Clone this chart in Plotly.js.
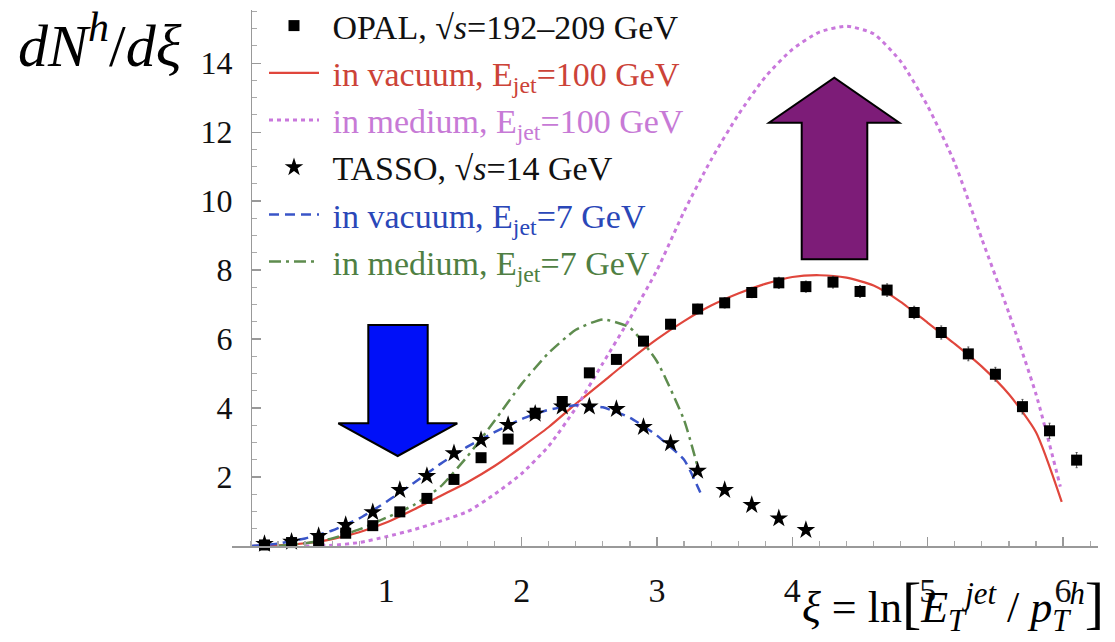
<!DOCTYPE html>
<html><head><meta charset="utf-8">
<script src="https://cdn.plot.ly/plotly-3.0.1.min.js"></script>
<style>html,body{margin:0;padding:0;background:#fff}</style>
</head><body><div id="chart" style="width:1115px;height:642px"></div>
<script>
// ---- data ----
const opalX = [0.1,0.3,0.5,0.7,0.9,1.1,1.3,1.5,1.7,1.9,2.1,2.3,2.5,2.7,2.9,3.1,3.3,3.5,3.7,3.9,4.1,4.3,4.5,4.7,4.9,5.1,5.3,5.5,5.7,5.9,6.1];
const opalY = [0.03,0.1,0.15,0.37,0.59,0.99,1.38,1.93,2.56,3.10,3.85,4.19,5.02,5.41,5.94,6.43,6.87,7.05,7.35,7.63,7.52,7.65,7.38,7.42,6.77,6.19,5.57,4.98,4.04,3.34,2.49];
const opalErr = [0.02,0.02,0.03,0.04,0.05,0.06,0.07,0.08,0.09,0.1,0.1,0.11,0.12,0.12,0.13,0.14,0.14,0.15,0.15,0.16,0.16,0.17,0.17,0.18,0.18,0.19,0.2,0.2,0.21,0.22,0.22];

const tassoX = [0.1,0.3,0.5,0.7,0.9,1.1,1.3,1.5,1.7,1.9,2.1,2.3,2.5,2.7,2.9,3.1,3.3,3.5,3.7,3.9,4.1];
const tassoY = [0.06,0.12,0.29,0.61,0.98,1.62,2.03,2.69,3.07,3.51,3.83,4.04,4.04,3.97,3.45,2.98,2.18,1.62,1.19,0.80,0.46];

const vac100X = [0,0.2,0.4,0.6,0.8,1.0,1.2,1.4,1.6,1.8,2.0,2.2,2.4,2.6,2.8,3.0,3.2,3.4,3.6,3.8,4.0,4.2,4.4,4.6,4.8,5.0,5.2,5.4,5.6,5.8,5.99];
const vac100Y = [0,0.02,0.08,0.2,0.4,0.68,1.05,1.45,1.85,2.32,2.87,3.45,4.12,4.76,5.4,6.0,6.52,6.97,7.32,7.6,7.8,7.85,7.78,7.55,7.08,6.47,5.86,5.2,4.4,3.3,1.28];

const med100X = [0.4,0.6,0.8,1.0,1.2,1.4,1.6,1.8,2.0,2.2,2.4,2.6,2.8,3.0,3.2,3.4,3.6,3.8,4.0,4.2,4.4,4.6,4.8,5.0,5.2,5.4,5.6,5.8,5.98];
const med100Y = [0,0.02,0.1,0.27,0.47,0.72,1.0,1.5,2.1,2.9,4.0,5.3,6.6,8.0,9.7,11.2,12.5,13.6,14.4,14.9,15.07,14.85,14.05,12.75,11.1,8.9,6.75,4.4,1.72];

const vac7X = [0,0.2,0.4,0.6,0.8,1.0,1.2,1.4,1.6,1.8,2.0,2.2,2.4,2.6,2.8,3.0,3.2,3.32];
const vac7Y = [0,0.07,0.22,0.45,0.8,1.28,1.82,2.38,2.88,3.3,3.68,3.95,4.08,4.02,3.72,3.2,2.5,1.55];

const med7X = [0.2,0.4,0.6,0.8,1.0,1.2,1.4,1.6,1.8,2.0,2.2,2.4,2.6,2.8,3.0,3.2,3.3];
const med7Y = [0,0.08,0.22,0.48,0.82,1.18,1.72,2.6,3.63,4.7,5.6,6.27,6.57,6.33,5.35,3.65,2.3];

const xTicks = [1,2,3,4,5,6];
const yTicks = [2,4,6,8,10,12,14];

const sp = '\u2005';
const names = {
  opal: sp + 'OPAL, √<i>s</i>=192–209 GeV',
  vac100: sp + '<span style="color:#cc4338">in vacuum, E<sub>jet</sub>=100 GeV</span>',
  med100: sp + '<span style="color:#c77ad6">in medium, E<sub>jet</sub>=100 GeV</span>',
  tasso: sp + 'TASSO, √<i>s</i>=14 GeV',
  vac7: sp + '<span style="color:#2a47b8">in vacuum, E<sub>jet</sub>=7 GeV</span>',
  med7: sp + '<span style="color:#4f7f43">in medium, E<sub>jet</sub>=7 GeV</span>'
};

const serif = 'Liberation Serif, Times New Roman, serif';

const traces = [
  {x: vac100X, y: vac100Y, mode:'lines', name: names.vac100, legendrank:2, legendgroup:'b',
   line:{color:'#e0463c', width:2.2, shape:'spline', smoothing:0.6}},
  {x: med100X, y: med100Y, mode:'lines', name: names.med100, legendrank:3, legendgroup:'c',
   line:{color:'#c978dc', width:3, dash:'4px,4px', shape:'spline', smoothing:0.6}},
  {x: vac7X, y: vac7Y, mode:'lines', name: names.vac7, legendrank:5, legendgroup:'e',
   line:{color:'#3a55c8', width:2.5, dash:'10px,6px', shape:'spline', smoothing:0.5}},
  {x: med7X, y: med7Y, mode:'lines', name: names.med7, legendrank:6, legendgroup:'f',
   line:{color:'#5e8c4e', width:2.5, dash:'12px,5px,3px,5px', shape:'spline', smoothing:0.5}},
  {x: opalX, y: opalY, mode:'markers', name: names.opal, legendrank:1, legendgroup:'a', cliponaxis:false,
   marker:{symbol:'square', size:11, color:'#000'},
   error_y:{type:'data', array: opalErr, visible:true, color:'#555', thickness:1, width:1}},
  {x: tassoX, y: tassoY, mode:'markers', name: names.tasso, legendrank:4, legendgroup:'d', cliponaxis:false,
   marker:{symbol:'star', size:14, color:'#000', line:{width:0}}}
];

// pixel helpers for decorative arrows (paper coords)
const L = 232, T = 10, W = 866, H = 536;
const px = v => (v - L) / W;
const py = v => (T + H - v) / H;
function poly(pts){ return 'M ' + pts.map(p => px(p[0]) + ',' + py(p[1])).join(' L ') + ' Z'; }

const purpleArrow = poly([[801.7,259.3],[801.7,122.7],[769,122.7],[834.3,77.7],[899.3,122.7],[867.3,122.7],[867.3,259.3]]);
const blueArrow = poly([[368.3,325],[427.7,325],[427.7,423.3],[457.3,423.3],[397.7,456],[338.3,423.3],[368.3,423.3]]);

const layout = {
  width:1115, height:642,
  margin:{l:L, r:17, t:T, b:96, autoexpand:false},
  paper_bgcolor:'#fff', plot_bgcolor:'#fff',
  showlegend:true,
  legend:{x:px(264), y:py(-3), xanchor:'left', yanchor:'top', bgcolor:'rgba(0,0,0,0)',
          font:{family:serif, size:34, color:'#111'}, itemwidth:50, tracegroupgap:0, traceorder:'grouped'},
  xaxis:{range:[-0.14,6.258], showgrid:false, zeroline:false, showline:true, linecolor:'#999', linewidth:1.5,
         ticks:'inside', ticklen:9, tickcolor:'#999', tickwidth:1.2,
         tickmode:'array', tickvals:xTicks, ticktext:xTicks.map(String),
         tickfont:{family:serif, size:34, color:'#111'}, ticklabelstandoff:14,
         minor:{tickmode:'linear', tick0:0, dtick:0.2, ticks:'inside', ticklen:5, tickcolor:'#aaa', showgrid:false}},
  yaxis:{range:[0,15.54], anchor:'free', position:0.14/6.398, showgrid:false, zeroline:false, showline:true,
         linecolor:'#999', linewidth:1.5,
         ticks:'inside', ticklen:9, tickcolor:'#999', tickwidth:1.2,
         tickmode:'array', tickvals:yTicks, ticktext:yTicks.map(String),
         tickfont:{family:serif, size:32, color:'#111'}, ticklabelstandoff:12,
         minor:{tickmode:'linear', tick0:0, dtick:0.5, ticks:'inside', ticklen:5, tickcolor:'#aaa', showgrid:false}},
  shapes:[
    {type:'path', xref:'paper', yref:'paper', path:purpleArrow, fillcolor:'#7d1c78', line:{color:'#000', width:2}},
    {type:'path', xref:'paper', yref:'paper', path:blueArrow, fillcolor:'#0010f8', line:{color:'#000', width:2}}
  ],
  annotations:[
    {xref:'paper', yref:'paper', x:px(100), y:py(42), xanchor:'center', yanchor:'middle', showarrow:false,
     text:'<i>dN</i><sup><i>h</i></sup>/<i>dξ</i>', font:{family:serif, size:60, color:'#000'}},
    {xref:'paper', yref:'paper', x:px(1106), y:py(604), xanchor:'right', yanchor:'middle', showarrow:false,
     text:'<i>ξ</i> = ln<span style="font-size:58px">[</span><i>E</i><sub><i>T</i></sub><sup><i>jet</i></sup> / <i>p</i><sub><i>T</i></sub><sup><i>h</i></sup><span style="font-size:58px">]</span>',
     font:{family:serif, size:44, color:'#000'}}
  ]
};

Plotly.newPlot('chart', traces, layout, {displayModeBar:false, staticPlot:true});
</script>
</body></html>
